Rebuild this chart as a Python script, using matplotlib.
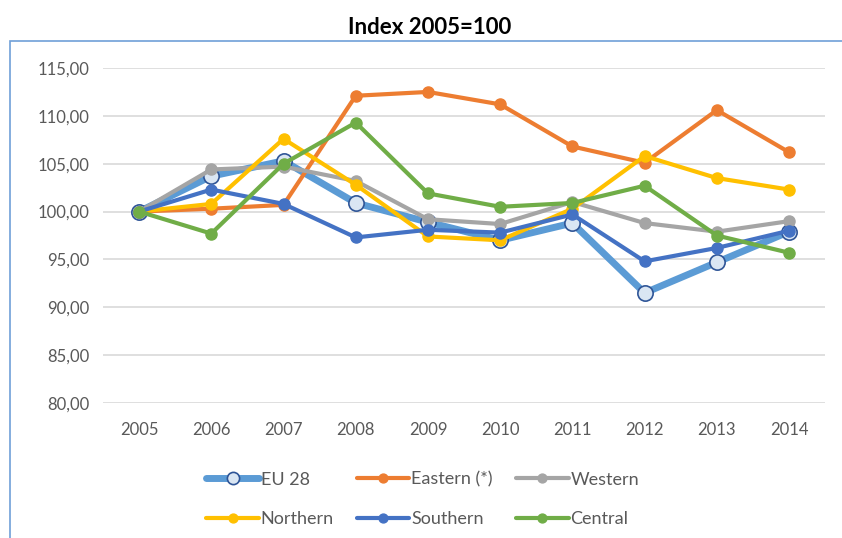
import matplotlib.pyplot as plt
from matplotlib.patches import Rectangle

plt.rcParams['font.family'] = ['Lato', 'DejaVu Sans']

anos = ['2005', '2006', '2007', '2008', '2009', '2010', '2011', '2012', '2013', '2014']

eu28 = [100.0, 103.7, 105.3, 100.9, 98.9, 97.0, 98.8, 91.5, 94.7, 97.9]
eastern = [100.0, 100.3, 100.7, 112.1, 112.5, 111.2, 106.8, 105.1, 110.6, 106.2]
western = [100.0, 104.4, 104.7, 103.2, 99.2, 98.7, 101.0, 98.8, 97.9, 99.0]
northern = [100.0, 100.8, 107.6, 102.8, 97.4, 97.0, 100.3, 105.8, 103.5, 102.3]
southern = [100.0, 102.3, 100.8, 97.3, 98.1, 97.8, 99.7, 94.8, 96.2, 98.0]
central = [100.0, 97.7, 105.0, 109.3, 101.9, 100.5, 100.9, 102.7, 97.5, 95.7]

yticks = [80, 85, 90, 95, 100, 105, 110, 115]

fig = plt.figure(figsize=(8.42, 5.38), dpi=100)
ax = fig.add_axes([0.1223, 0.2509, 0.8577, 0.6227])

x = range(len(anos))
series = [
    ('EU 28', eu28, '#5b9bd5'),
    ('Eastern (*)', eastern, '#ed7d31'),
    ('Western', western, '#a5a5a5'),
    ('Northern', northern, '#ffc000'),
    ('Southern', southern, '#4472c4'),
    ('Central', central, '#70ad47'),
]

handles = {}
for nome, vals, cor in series:
    if nome == 'EU 28':
        h, = ax.plot(x, vals, color=cor, linewidth=5, marker='o', markersize=11,
                     markerfacecolor='#dae6f3', markeredgecolor='#2f5597',
                     markeredgewidth=1.2, label=nome, solid_capstyle='round')
    else:
        h, = ax.plot(x, vals, color=cor, linewidth=3, marker='o', markersize=8,
                     markerfacecolor=cor, markeredgecolor=cor, label=nome,
                     solid_capstyle='round')
    handles[nome] = h

ax.set_xlim(-0.5, 9.5)
ax.set_ylim(80, 115)
ax.set_xticks(list(x))
ax.set_xticklabels(anos)
ax.set_yticks(yticks)
ax.set_yticklabels([('%.2f' % v).replace('.', ',') for v in yticks])
ax.grid(axis='y', color='#d9d9d9', linewidth=1.2)
ax.set_axisbelow(True)
for s in ax.spines.values():
    s.set_visible(False)
ax.tick_params(length=0, labelsize=12, colors='#595959', pad=10)
ax.tick_params(axis='x', pad=14)

fig.text(0.51, 0.948, 'Index 2005=100', ha='center', va='center',
         fontsize=16, fontweight='bold', color='black')

# moldura azul
fig.patches.append(Rectangle((0.012, -0.1), 1.2, 1.023, transform=fig.transFigure,
                             fill=False, edgecolor='#6fa0d8', linewidth=1.2))

ordem = ['EU 28', 'Northern', 'Eastern (*)', 'Southern', 'Western', 'Central']
leg = fig.legend([handles[n] for n in ordem], ordem, ncol=3, loc='center',
                 bbox_to_anchor=(0.502, 0.072), frameon=False, fontsize=13,
                 handlelength=2.9, handletextpad=0.1, columnspacing=1.3,
                 labelspacing=1.3, labelcolor='#595959', markerscale=0.8)

fig.savefig('out.png', dpi=100)
